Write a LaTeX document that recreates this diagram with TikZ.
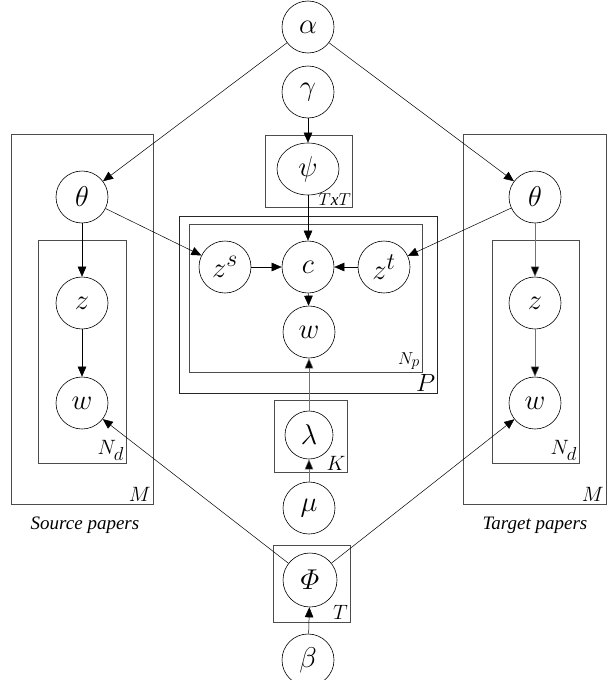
\documentclass[tikz,border=0pt]{standalone}
\usepackage{amsmath}
\usepackage{graphicx}
\usepackage{fontspec}
\setmainfont{Liberation Serif}
\usetikzlibrary{arrows.meta,shapes.geometric}
% enlarged math symbol for the variable circles
\newcommand{\varsym}[1]{\scalebox{1.15}{$#1$}}
% slightly larger plate subscript
\newcommand{\platesub}[1]{\scalebox{1.3}{$\scriptstyle #1$}}
\begin{document}
\begin{tikzpicture}[x=1pt,y=-1pt,
  var/.style={circle,draw,line width=0.6pt,minimum size=52pt,inner sep=0pt,
    font=\fontsize{24.88}{25}\selectfont},
  plate/.style={draw=black!70,line width=0.7pt},
  edge/.style={-{Triangle[length=10pt,width=8.5pt]},line width=0.5pt},
  greyedge/.style={draw=black!55,-{Triangle[length=10pt,width=8.5pt,fill=black]},line width=0.5pt},
  platelab/.style={anchor=south east,inner sep=2pt,font=\fontsize{20.74}{21}\selectfont},
  caption/.style={font=\fontsize{19}{19}\selectfont\itshape}
]
\useasboundingbox (0,0) rectangle (607,680);

% plates
\draw[plate] (11,134) rectangle (153,504);
\draw[plate] (38,240) rectangle (126,463);
\draw[plate] (463,134) rectangle (606,504);
\draw[plate] (492,240) rectangle (579,463);
\draw[plate] (265,135) rectangle (352,207);
\draw[plate,draw=black!85] (179,216) rectangle (437,393);
\draw[plate] (189,224) rectangle (422,372);
\draw[plate] (274,400) rectangle (347,472);
\draw[plate] (273,545) rectangle (350,622);

% plate labels
\node[platelab] (lM1) at (153,504) {$M$};
\node[platelab] (lNd1) at (126,463) {$N_{\platesub{d}}$};
\node[platelab] (lM2) at (606,504) {$M$};
\node[platelab] (lNd2) at (579,463) {$N_{\platesub{d}}$};
\node[platelab,inner sep=1pt,font=\fontsize{17.28}{17}\selectfont] (lTT) at (352,207) {$T$\textit{x}$T$};
\node[platelab,font=\fontsize{24.88}{25}\selectfont,inner sep=1.5pt] (lP) at (437,393) {$P$};
\node[platelab,font=\fontsize{17.28}{17}\selectfont] (lNp) at (422,372) {$N_{\platesub{p}}$};
\node[platelab,inner sep=1.5pt] (lK) at (347,472) {$K$};
\node[platelab] (lT) at (350,622) {$T$};

% captions
\node[caption] (src) at (85,525) {Source papers};
\node[caption] (tgt) at (535,525) {Target papers};

% variables
\node[var] (alpha) at (308,27) {\varsym{\alpha}};
\node[var] (gamma) at (308,92) {\varsym{\gamma}};
\node[var,ellipse,minimum width=62pt,minimum height=52pt] (psi) at (308,169) {\varsym{\psi}};
\node[var] (zs) at (225,267) {\varsym{z^s}};
\node[var] (c) at (308,267) {\varsym{c}};
\node[var] (zt) at (384,267) {\varsym{z^t}};
\node[var] (wc) at (309,332) {\varsym{w}};
\node[var,minimum size=48pt] (lam) at (309,435) {\varsym{\lambda}};
\node[var] (mu) at (309,508) {\varsym{\mu}};
\node[var,minimum size=54pt] (phi) at (310,580) {\varsym{\varPhi}};
\node[var] (beta) at (308,660) {\varsym{\beta}};

\node[var] (thL) at (82,197) {\varsym{\theta}};
\node[var] (zL) at (82,303) {\varsym{z}};
\node[var] (wL) at (82,403) {\varsym{w}};
\node[var] (thR) at (535,197) {\varsym{\theta}};
\node[var] (zR) at (535,303) {\varsym{z}};
\node[var] (wR) at (535,403) {\varsym{w}};

% connectors
\draw[edge] (alpha) -- (thL);
\draw[edge] (alpha) -- (thR);
\draw[edge] (gamma) -- (psi);
\draw[edge] (psi) -- (c);
\draw[edge] (thL) -- (zs);
\draw[edge] (thR) -- (zt);
\draw[edge] (zs) -- (c);
\draw[edge] (zt) -- (c);
\draw[edge] (c) -- (wc);
\draw[greyedge] (lam) -- (wc);
\draw[greyedge] (mu) -- (lam);
\draw[edge] (beta) -- (phi);
\draw[edge] (phi) -- (wL);
\draw[edge] (phi) -- (wR);
\draw[edge] (thL) -- (zL);
\draw[edge] (zL) -- (wL);
\draw[greyedge] (thR) -- (zR);
\draw[greyedge] (zR) -- (wR);
\end{tikzpicture}
\end{document}
